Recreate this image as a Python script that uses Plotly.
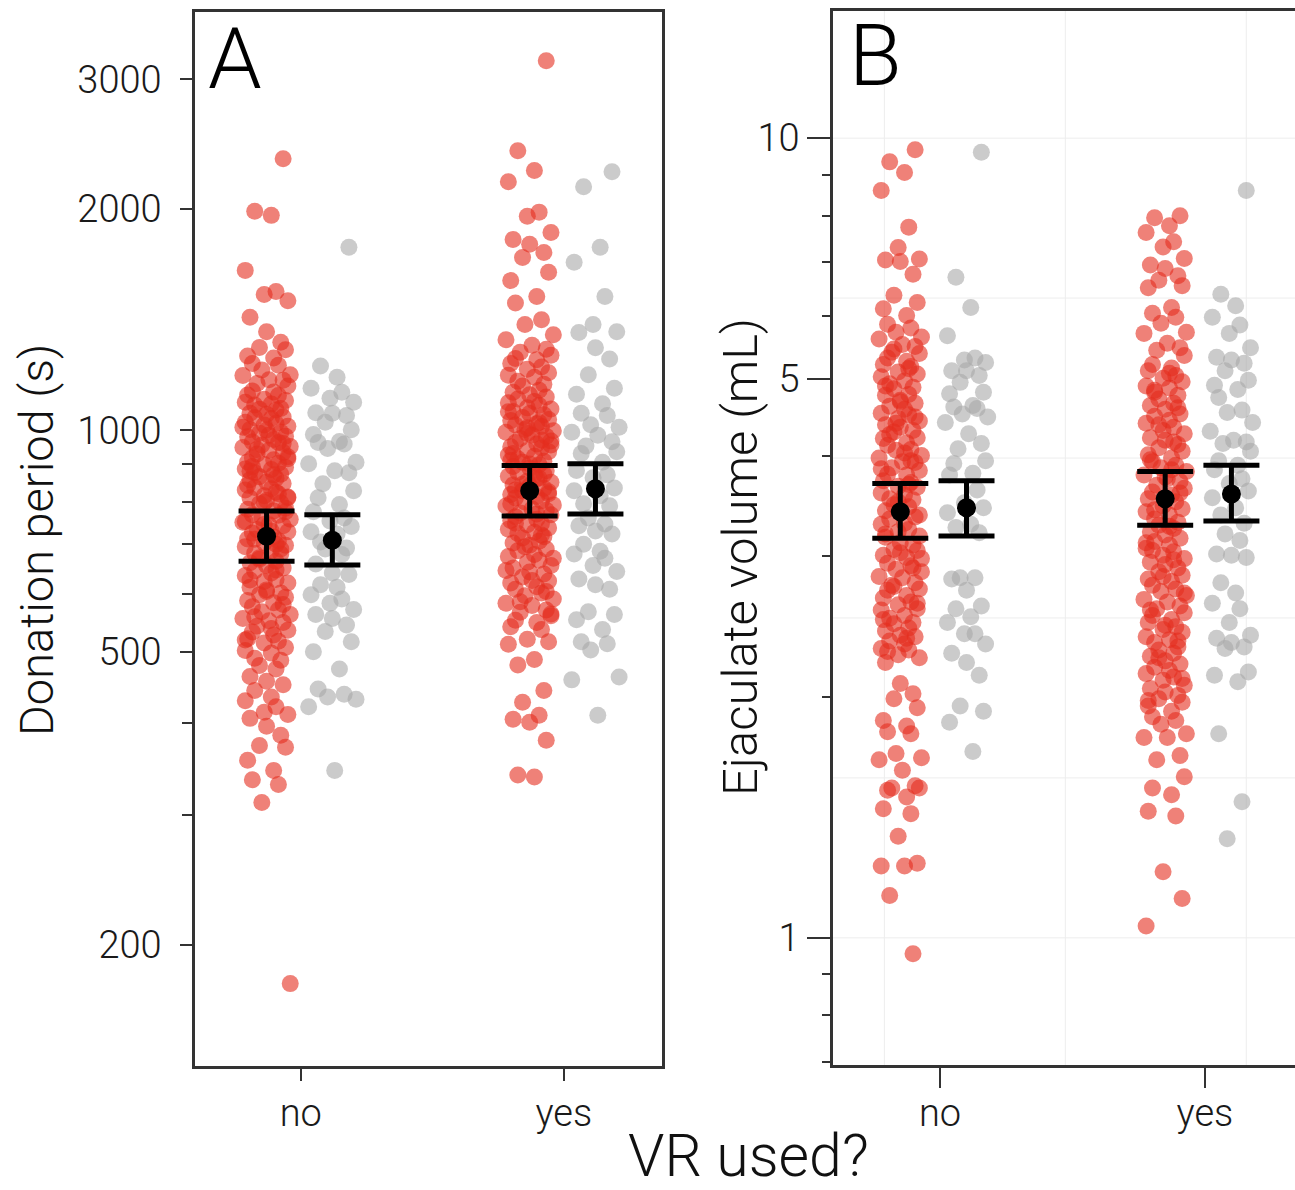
import plotly.graph_objects as go

# categories on the x axis
CATS = ["no", "yes"]

# Panel A: donation period (s), red = one group, grey = other group
A_RED_NO = [2340, 1985, 1960, 1650, 1545, 1530, 1500, 1425, 1362, 1318, 1296, 1287, 1262, 1254,
            1233, 1226, 1208, 1190, 1187, 1172, 1170, 1158, 1149, 1131, 1128, 1117, 1115, 1102, 1098, 1092,
            1086, 1083, 1071, 1068, 1066, 1055, 1052, 1043, 1040, 1038, 1026, 1022, 1017, 1013, 1003, 1001,
            994, 991, 982, 980, 972, 964, 963, 955, 951, 948, 939, 933, 929, 921, 917, 912, 906, 902, 899,
            891, 886, 885, 876, 872, 865, 861, 857, 851, 847, 836, 833, 830, 824, 815, 812, 809, 803, 797,
            795, 784, 781, 777, 768, 767, 760, 757, 750, 744, 742, 733, 728, 725, 716, 712, 708, 703,
            698, 695, 686, 681, 679, 671, 664, 661, 655, 650, 644, 640, 635, 627, 623, 620, 612, 607, 601,
            598, 593, 587, 583, 576, 570, 567, 562, 555, 551, 548, 542, 535, 532, 527, 521, 517, 514, 507, 502,
            498, 490, 487, 479, 474, 463, 456, 451, 443, 434, 429, 421, 414, 411, 406, 396,
            385, 373, 371, 356, 345, 335, 330, 312, 177,
            1010, 985, 960, 942, 915, 893, 870, 842, 820, 798, 775, 752, 730, 711, 690, 668, 646, 626,
            604, 580, 558, 538, 519, 700, 745, 810, 880]
A_RED_YES = [3180, 2400, 2255, 2178, 1980, 1955, 1858, 1818, 1790, 1745, 1718, 1640, 1598, 1520, 1490,
             1414, 1393, 1349, 1328, 1305,
             1289, 1277, 1265, 1252, 1247, 1233, 1219, 1211, 1198, 1188, 1181, 1166, 1155, 1149, 1134, 1127,
             1118, 1110, 1103, 1095, 1090, 1081, 1073, 1069, 1061, 1054, 1050, 1041, 1035, 1031, 1021, 1017,
             1012, 1003, 999, 994, 985, 982, 975, 967, 963, 958, 950, 946, 939, 935, 926, 922, 915, 908, 905, 898,
             893, 889, 881, 877, 870, 866, 861, 853, 850, 843, 840, 834, 827, 825, 818, 813, 809, 802, 799,
             792, 789, 782, 779, 772, 768, 763, 757, 754, 747, 744, 737, 734, 727, 724, 717, 714, 707, 703,
             698, 690, 686, 678, 674, 666, 662, 655, 650, 642, 638, 632, 624, 620, 613, 608, 601, 596, 590,
             582, 578, 570, 566, 560, 552, 548, 541, 536,
             520, 516, 512, 488, 480, 443, 427, 410, 405, 401, 379, 340, 338,
             1060, 1025, 990, 955, 930, 900, 872, 845, 820, 795, 770, 748, 721, 695, 670, 645, 625, 604,
             585, 563, 830, 860, 910, 970, 1008]
A_GREY_NO = [1774, 1223, 1181, 1141, 1127, 1106, 1092, 1057, 1055, 1048, 1026, 1002, 987, 966, 963, 958,
             945, 905, 901, 881, 876, 846, 828, 810, 793, 775, 760, 753, 740, 728, 723, 705, 692, 690, 678,
             658, 640, 637, 617, 612, 598, 590, 582, 571, 562, 555, 544, 533, 516, 500, 474, 445, 438, 434,
             431, 421, 345]
A_GREY_YES = [2246, 2143, 1774, 1692, 1520, 1393, 1362, 1358, 1295, 1250, 1190, 1141, 1120, 1087, 1055,
              1048, 1018, 1010, 994, 985, 965, 952, 935, 930, 905, 882, 870, 862, 835, 828, 815, 795, 790,
              760, 746, 742, 730, 723, 700, 685, 679, 670, 655, 643, 628, 617, 608, 567, 562, 553, 536,
              516, 513, 503, 462, 458, 410]
A_RED_MEAN = [718, 828]
A_RED_LO = [664, 765]
A_RED_HI = [777, 896]
A_GREY_MEAN = [709, 833]
A_GREY_LO = [656, 770]
A_GREY_HI = [768, 901]

# Panel B: ejaculate volume (mL)
B_RED_NO = [9.67, 9.34, 9.06, 8.60, 7.74, 7.30, 7.06, 7.04, 7.01, 6.76, 6.36, 6.23, 6.12, 6.00, 5.85, 5.79,
            5.72, 5.64, 5.61, 5.52, 5.49, 5.40, 5.38, 5.31, 5.26, 5.21, 5.18, 5.10, 5.07, 5.03, 4.97, 4.93,
            4.88, 4.86, 4.78, 4.77, 4.70, 4.66, 4.62, 4.58, 4.53, 4.51,
            4.46, 4.43, 4.38, 4.35, 4.31, 4.29, 4.22, 4.21, 4.16, 4.13, 4.08, 4.07, 4.01, 3.98, 3.94, 3.93,
            3.87, 3.84, 3.80, 3.79, 3.73, 3.71, 3.67, 3.66, 3.60, 3.58, 3.54, 3.53, 3.48, 3.46, 3.42, 3.41,
            3.36, 3.34, 3.30, 3.29, 3.24, 3.22, 3.18, 3.17, 3.12, 3.10, 3.06, 3.05, 3.01,
            2.99, 2.94, 2.92, 2.89, 2.87, 2.83, 2.82, 2.78, 2.76, 2.73, 2.72, 2.68, 2.66, 2.63, 2.61, 2.58,
            2.57, 2.53, 2.51, 2.48, 2.47, 2.44, 2.42, 2.39, 2.38, 2.35, 2.33, 2.30, 2.29, 2.26, 2.24, 2.21,
            2.08, 2.02, 1.99, 1.94, 1.87, 1.84, 1.81, 1.80, 1.70, 1.68, 1.67, 1.62, 1.55, 1.54, 1.54, 1.53,
            1.50, 1.45, 1.43, 1.34, 1.24, 1.23, 1.23, 1.13, 0.955,
            5.45, 5.15, 4.90, 4.68, 4.48, 4.26, 4.04, 3.86, 3.69, 3.51, 3.38, 3.20, 3.03, 2.90, 2.75, 2.62,
            2.50, 2.37, 2.28, 3.95, 4.40, 2.98]
B_RED_YES = [8.00, 7.95, 7.77, 7.62, 7.42, 7.31, 7.07, 6.94, 6.87, 6.73, 6.64, 6.54, 6.50, 6.14, 6.04,
             5.97, 5.87, 5.72, 5.70, 5.54, 5.47, 5.43, 5.35,
             5.21, 5.16, 5.12, 5.05, 5.01, 4.96, 4.90, 4.87, 4.81, 4.77, 4.72, 4.66, 4.63, 4.58, 4.52, 4.49,
             4.44, 4.40, 4.35, 4.31, 4.27, 4.22, 4.19, 4.14, 4.10, 4.06, 4.02, 3.98, 3.94, 3.90, 3.87, 3.83,
             3.79, 3.75, 3.72, 3.68, 3.65, 3.61, 3.58, 3.54, 3.51, 3.47, 3.44, 3.41, 3.38, 3.34, 3.31, 3.28,
             3.25, 3.22, 3.19, 3.16, 3.13, 3.10, 3.07, 3.04, 3.01, 2.98, 2.95, 2.93, 2.90, 2.87, 2.84, 2.81,
             2.79, 2.76, 2.73, 2.71, 2.68, 2.65, 2.63, 2.60, 2.58, 2.55, 2.53, 2.50, 2.48, 2.45, 2.43, 2.41,
             2.38, 2.36, 2.34, 2.31, 2.29, 2.27, 2.25, 2.22, 2.20, 2.18, 2.16, 2.14, 2.12, 2.10, 2.07, 2.05,
             2.03, 2.01, 1.99, 1.97, 1.95, 1.92, 1.89, 1.87, 1.85,
             1.80, 1.78, 1.78, 1.69, 1.67, 1.59, 1.54, 1.51, 1.44, 1.42, 1.21, 1.12, 1.035,
             5.08, 4.84, 4.60, 4.38, 4.17, 3.96, 3.77, 3.60, 3.43, 3.27, 3.12, 2.97, 2.83, 2.70, 2.57, 2.46,
             2.35, 2.24, 2.11, 1.98, 3.85, 3.05]
B_GREY_NO = [9.6, 6.7, 6.14, 5.66, 5.31, 5.28, 5.24, 5.12, 5.12, 5.05, 4.95, 4.81, 4.79, 4.63, 4.61, 4.59,
             4.52, 4.48, 4.41, 4.27, 4.15, 4.09, 3.95, 3.92, 3.81, 3.79, 3.63, 3.50, 3.45, 3.40, 3.29, 3.26,
             3.21, 2.82, 2.82, 2.81, 2.72, 2.60, 2.58, 2.52, 2.48, 2.40, 2.40, 2.33, 2.27, 2.21, 2.13, 1.95,
             1.92, 1.86, 1.71]
B_GREY_YES = [8.6, 6.38, 6.17, 5.97, 5.84, 5.70, 5.47, 5.32, 5.28, 5.23, 5.12, 4.98, 4.91, 4.85, 4.74, 4.57,
              4.54, 4.41, 4.30, 4.19, 4.17, 4.15, 4.06, 3.95, 3.90, 3.85, 3.75, 3.70, 3.62, 3.55, 3.45, 3.38,
              3.30, 3.20, 3.14, 3.02, 3.01, 2.99, 2.78, 2.70, 2.62, 2.58, 2.48, 2.39, 2.37, 2.34, 2.31, 2.30,
              2.15, 2.13, 2.09, 1.80, 1.48, 1.33]
B_RED_MEAN = [3.41, 3.54]
B_RED_LO = [3.16, 3.28]
B_RED_HI = [3.70, 3.83]
B_GREY_MEAN = [3.45, 3.59]
B_GREY_LO = [3.18, 3.32]
B_GREY_HI = [3.73, 3.90]

# hand-made horizontal jitter (category units)
JITTER = [0.07, -0.05, 0.02, -0.09, 0.04, -0.01, 0.09, -0.07, 0.00, 0.06, -0.03, 0.08, -0.08, 0.03,
          -0.06, 0.05, -0.02, 0.10, -0.10, 0.01, 0.07, -0.04, 0.09, -0.06, 0.03, -0.08, 0.05, -0.01,
          0.08, -0.09, 0.02, -0.05, 0.06, -0.03, 0.04, -0.07, 0.00]

RED = "#E42D1E"
GREY = "#A9A9A9"
AXCOL = "#333333"
FONT = "Roboto"

W, H = 1295, 1190


def px_x(p):
    return p / W


def px_y(p):
    return 1 - p / H


def jittered(cat, dodge, n, spread):
    return [cat + dodge + spread * JITTER[i % len(JITTER)] for i in range(n)]


fig = go.Figure()

# faint grid in panel B
for gv in [1, 1.585, 2.512, 3.981, 6.310, 10]:
    fig.add_trace(go.Scatter(x=[0.596, 2.34], y=[gv, gv], mode="lines", xaxis="x2", yaxis="y2",
                             line=dict(color="#EDEDED", width=1), hoverinfo="skip"))
for gx in [0.79, 1.473, 2.156]:
    fig.add_trace(go.Scatter(x=[gx, gx], y=[0.6, 15], mode="lines", xaxis="x2", yaxis="y2",
                             line=dict(color="#EDEDED", width=1), hoverinfo="skip"))

panels = [
    ("x", "y", [A_RED_NO, A_RED_YES], [A_GREY_NO, A_GREY_YES], -0.13, 0.12, 0.9,
     (A_RED_MEAN, A_RED_LO, A_RED_HI), (A_GREY_MEAN, A_GREY_LO, A_GREY_HI)),
    ("x2", "y2", [B_RED_NO, B_RED_YES], [B_GREY_NO, B_GREY_YES], -0.15, 0.10, 0.8,
     (B_RED_MEAN, B_RED_LO, B_RED_HI), (B_GREY_MEAN, B_GREY_LO, B_GREY_HI)),
]

for xa, ya, reds, greys, dred, dgrey, spread, rstat, gstat in panels:
    for groups, dodge, col in [(reds, dred, RED), (greys, dgrey, GREY)]:
        for ci, vals in enumerate(groups):
            fig.add_trace(go.Scatter(
                x=jittered(ci + 1, dodge, len(vals), spread), y=vals, mode="markers",
                xaxis=xa, yaxis=ya,
                marker=dict(size=17, color=col, opacity=0.6, line=dict(width=0)),
            ))
    for (mean, lo, hi), dodge in [(rstat, dred), (gstat, dgrey)]:
        fig.add_trace(go.Scatter(
            x=[1 + dodge, 2 + dodge], y=mean, mode="markers", xaxis=xa, yaxis=ya,
            marker=dict(size=19, color="black"),
            error_y=dict(type="data", symmetric=False,
                         array=[h - m for h, m in zip(hi, mean)],
                         arrayminus=[m - l for m, l in zip(mean, lo)],
                         color="black", thickness=5, width=28),
        ))

tickfont = dict(family=FONT, size=38, color="#1a1a1a", weight=300)

fig.update_layout(
    width=W, height=H,
    margin=dict(l=0, r=0, t=0, b=0),
    paper_bgcolor="white", plot_bgcolor="white",
    showlegend=False,
    font=dict(family=FONT, color="#111111"),
    xaxis=dict(domain=[px_x(195), px_x(662)], range=[0.598, 2.373],
               tickmode="array", tickvals=[1, 2], ticktext=CATS, tickfont=tickfont,
               ticks="outside", ticklen=12, tickwidth=2, tickcolor=AXCOL, ticklabelstandoff=0,
               showline=True, linecolor=AXCOL, linewidth=2.5, mirror=True,
               showgrid=False, zeroline=False),
    yaxis=dict(domain=[px_y(1066), px_y(12)], type="log", range=[2.136, 3.5687],
               tickmode="array", tickvals=[200, 500, 1000, 2000, 3000],
               ticktext=["200", "500", "1000", "2000", "3000"], tickfont=tickfont,
               ticks="outside", ticklen=12, tickwidth=2, tickcolor=AXCOL, ticklabelstandoff=11,
               minor=dict(tickmode="array", tickvals=[300, 400, 600, 700, 800, 900],
                          ticks="outside", ticklen=10, tickwidth=2, tickcolor=AXCOL, showgrid=False),
               showline=True, linecolor=AXCOL, linewidth=2.5, mirror=True,
               showgrid=False, zeroline=False),
    xaxis2=dict(domain=[px_x(833), 1.0], range=[0.596, 2.34], anchor="y2",
                tickmode="array", tickvals=[1, 2], ticktext=CATS, tickfont=tickfont,
                ticks="outside", ticklen=20, tickwidth=2, tickcolor=AXCOL, ticklabelstandoff=-7,
                showline=True, linecolor=AXCOL, linewidth=2.5, mirror=True,
                showgrid=False, zeroline=False),
    yaxis2=dict(domain=[px_y(1065), px_y(11)], type="log", range=[-0.159, 1.159], anchor="x2",
                tickmode="array", tickvals=[1, 5, 10], ticktext=["1", "5", "10"], tickfont=tickfont,
                ticks="outside", ticklen=23, tickwidth=2, tickcolor=AXCOL, ticklabelstandoff=0,
                minor=dict(tickmode="array", tickvals=[0.7, 0.8, 0.9, 2, 3, 4, 6, 7, 8, 9],
                           ticks="outside", ticklen=8, tickwidth=2, tickcolor=AXCOL, showgrid=False),
                showline=True, linecolor=AXCOL, linewidth=2.5, mirror=False,
                showgrid=False, zeroline=False),
)

fig.add_annotation(text="Donation period (s)", x=px_x(37), y=px_y(540), xref="paper", yref="paper",
                   textangle=-90, showarrow=False, xanchor="center", yanchor="middle",
                   font=dict(family=FONT, size=47, color="#111111", weight=300))
fig.add_annotation(text="Ejaculate volume (mL)", x=px_x(740), y=px_y(557), xref="paper", yref="paper",
                   textangle=-90, showarrow=False, xanchor="center", yanchor="middle",
                   font=dict(family=FONT, size=49, color="#111111", weight=300))
fig.add_annotation(text="VR used?", x=px_x(748), y=px_y(1155), xref="paper", yref="paper",
                   showarrow=False, xanchor="center", yanchor="middle",
                   font=dict(family=FONT, size=59, color="#111111", weight=300))
for lab, cx, cy in [("A", 235, 58), ("B", 875, 55)]:
    fig.add_annotation(text=lab, x=px_x(cx), y=px_y(cy), xref="paper", yref="paper",
                       showarrow=False, xanchor="center", yanchor="middle",
                       font=dict(family=FONT, size=86, color="#000000", weight=300))

# the default page keeps an 8px body margin; drop it so the figure sits at 0,0
fig.write_html("out.html", config={"displayModeBar": False},
               post_script="document.body.style.margin='0';")
